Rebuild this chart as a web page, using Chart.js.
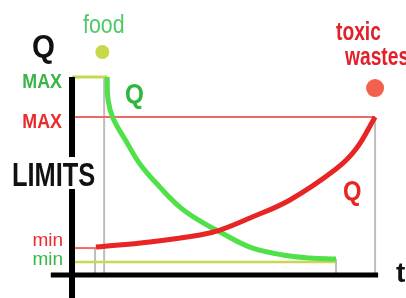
<!DOCTYPE html>
<html>
<head>
<meta charset="utf-8">
<script src="https://cdn.jsdelivr.net/npm/chart.js@4"></script>
<style>
  html, body { margin: 0; padding: 0; background: #fff; }
  canvas { display: block; }
</style>
</head>
<body>
<canvas id="chart" width="406" height="298"></canvas>
<script>
// ---- data (t = time, Q = quantity; origin at the axes) ----
const foodT = [1.16, 1.19, 1.35, 1.78, 2.24, 2.90, 3.56, 4.22, 4.88, 5.87, 6.96, 7.85, 8.71];
const foodQ = [10, 8.84, 7.93, 6.77, 5.61, 4.44, 3.43, 2.73, 2.17, 1.41, 1.01, 0.86, 0.81];
const wasteT = [0.79, 2.57, 4.22, 4.88, 5.87, 7.19, 8.71, 9.37, 10];
const wasteQ = [1.41, 1.67, 2.02, 2.27, 2.88, 3.79, 5.35, 6.36, 7.98];

const foodMax = 10, foodMin = 0.66;
const wasteMax = 7.98, wasteMin = 1.36;
const foodStartT = 1.06, wasteStartT = 0.76;
const foodEndT = 8.71, wasteEndT = 10;
const foodDot = { x: 1.0, y: 11.26 };
const wasteDot = { x: 10, y: 9.44 };

// ---- view window ----
const X_MIN = -2.376, X_MAX = 11.02;
const Y_MIN = -1.162, Y_MAX = 13.889;

const pts = (xs, ys) => xs.map((x, i) => ({ x: x, y: ys[i] }));
const seg = (x1, y1, x2, y2) => [{ x: x1, y: y1 }, { x: x2, y: y2 }];

function line(data, color, width, order) {
  return {
    data: data, showLine: true, borderColor: color, borderWidth: width,
    pointRadius: 0, clip: false, order: order, borderCapStyle: "butt"
  };
}

const datasets = [
  // grey guide lines
  line(seg(foodStartT, 0, foodStartT, foodMax), "#bdbdbd", 2, 9),
  line(seg(wasteStartT, 0, wasteStartT, wasteMin), "#bdbdbd", 2, 9),
  line(seg(foodEndT, 0, foodEndT, foodQ[foodQ.length - 1]), "#bdbdbd", 2, 9),
  line(seg(wasteEndT, 0, wasteEndT, wasteMax), "#bdbdbd", 2, 9),
  // limits
  line(seg(0, foodMax, foodT[0], foodMax), "#c8d850", 3, 8),
  line(seg(0, foodMin, foodEndT, foodMin), "#c8d850", 2.5, 8),
  line(seg(0, wasteMax, wasteEndT, wasteMax), "#f06a64", 2, 8),
  line(seg(0, wasteMin, wasteT[0], wasteMin), "#f06a64", 2, 8),
  // curves
  Object.assign(line(pts(foodT, foodQ), "#4fe04a", 5, 5), { tension: 0.4 }),
  Object.assign(line(pts(wasteT, wasteQ), "#e82424", 5, 4), { tension: 0.4 }),
  // axes
  line(seg(0, Y_MIN, 0, foodMax), "#000", 6, 1),
  line(seg(-0.7, 0, 10.1, 0), "#000", 5, 1),
  // dots
  { data: [foodDot], backgroundColor: "#c8d848", pointRadius: 7, borderWidth: 0, clip: false, order: 2 },
  { data: [wasteDot], backgroundColor: "#f2604e", pointRadius: 9, borderWidth: 0, clip: false, order: 2 }
];

function txt(ctx, s, x, y, font, color, sx, align) {
  ctx.save();
  ctx.translate(x, y);
  ctx.scale(sx, 1);
  ctx.font = font;
  ctx.fillStyle = color;
  ctx.textAlign = align;
  ctx.textBaseline = "alphabetic";
  ctx.fillText(s, 0, 0);
  ctx.restore();
}

const labels = {
  id: "labels",
  afterDatasetsDraw(chart) {
    const ctx = chart.ctx;
    const F = "Liberation Sans, Arial, sans-serif";
    ctx.save();
    ctx.fillStyle = "#fff";
    ctx.fillRect(60, 157, 24, 32);
    ctx.restore();
    txt(ctx, "LIMITS", 12, 186, "bold 33px " + F, "#111", 0.77, "left");
    txt(ctx, "Q", 32, 57, "bold 31px " + F, "#111", 0.95, "left");
    txt(ctx, "food", 83, 33, "26px " + F, "#4fc868", 0.82, "left");
    txt(ctx, "MAX", 62, 88, "bold 21px " + F, "#38b548", 0.85, "right");
    txt(ctx, "MAX", 62, 128, "bold 21px " + F, "#ea2a2e", 0.85, "right");
    txt(ctx, "Q", 125, 103, "bold 27px " + F, "#2db83d", 0.9, "left");
    txt(ctx, "min", 63, 246, "19px " + F, "#ea2a2e", 1, "right");
    txt(ctx, "min", 63, 265, "19px " + F, "#38b548", 1, "right");
    txt(ctx, "toxic", 336, 40, "bold 26px " + F, "#e0202a", 0.74, "left");
    txt(ctx, "wastes", 345, 65, "bold 26px " + F, "#e0202a", 0.74, "left");
    txt(ctx, "Q", 343, 200, "bold 28px " + F, "#e82424", 0.85, "left");
    txt(ctx, "t", 396, 282, "bold 28px " + F, "#111", 1, "left");
  }
};

new Chart(document.getElementById("chart"), {
  type: "scatter",
  data: { datasets: datasets },
  options: {
    responsive: false,
    animation: false,
    layout: { padding: 0, autoPadding: false },
    plugins: { legend: { display: false }, tooltip: { enabled: false } },
    scales: {
      x: { type: "linear", min: X_MIN, max: X_MAX, display: false },
      y: { type: "linear", min: Y_MIN, max: Y_MAX, display: false }
    }
  },
  plugins: [labels]
});
</script>
</body>
</html>
